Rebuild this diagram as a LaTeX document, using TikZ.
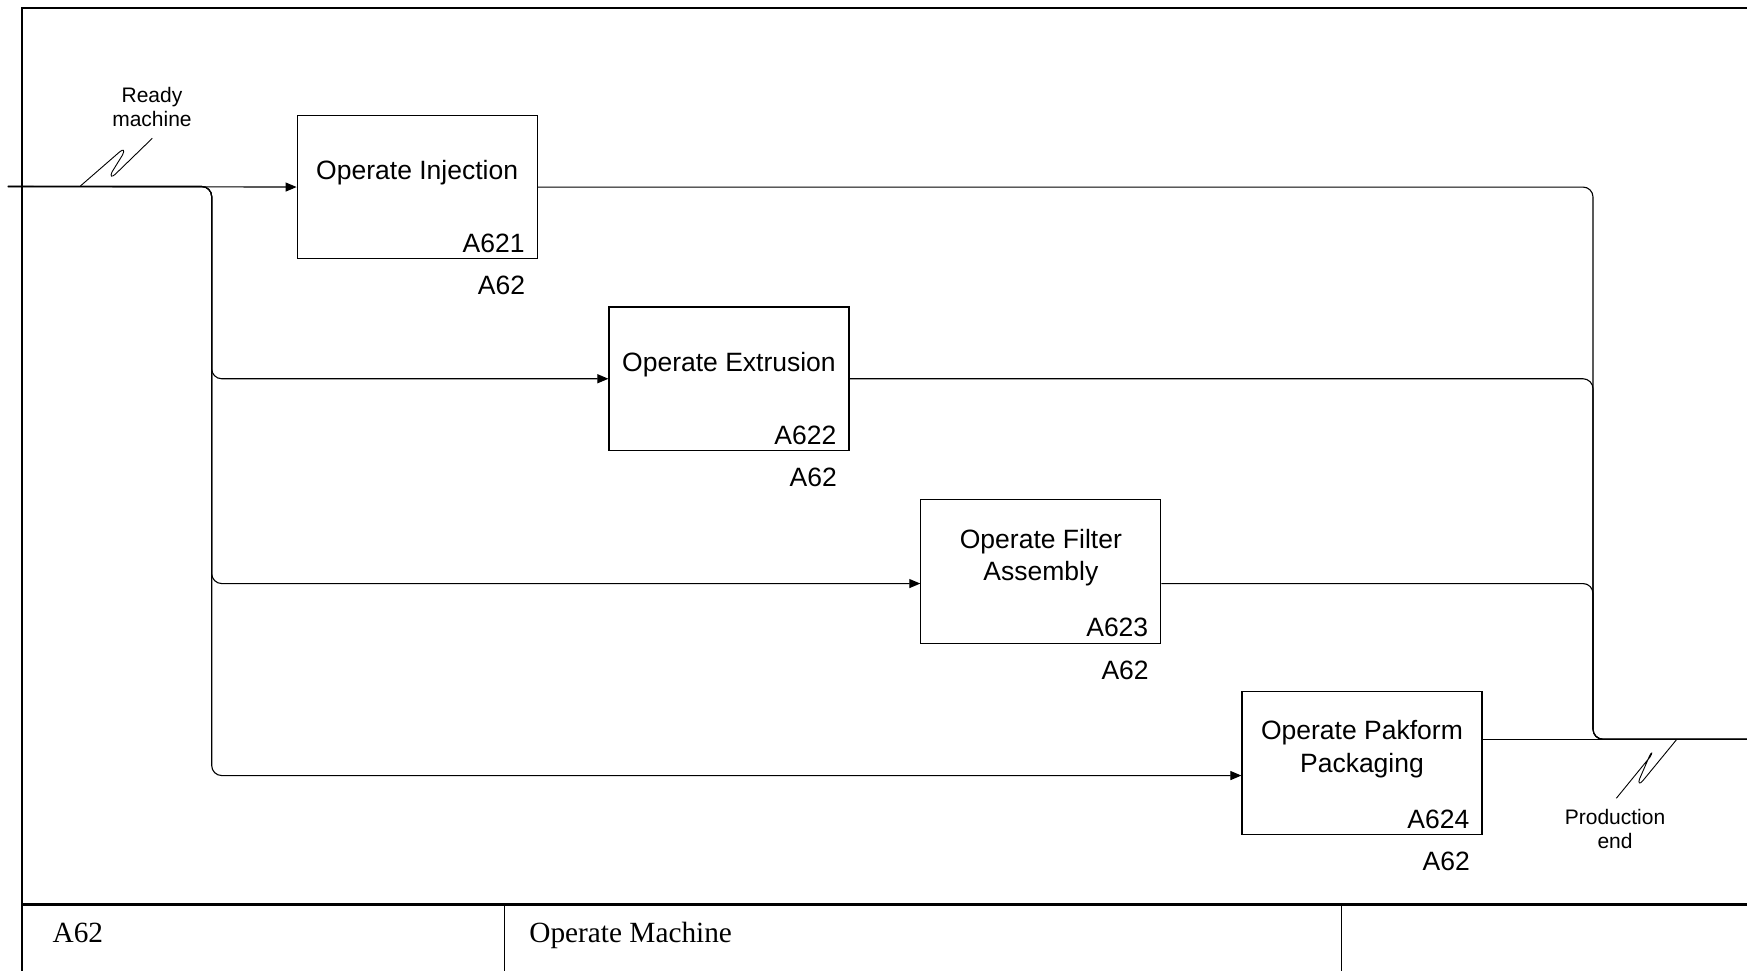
\documentclass[tikz,border=0pt]{standalone}
\usepackage{fontspec}
\setmainfont{Liberation Sans}
\newfontfamily\titlefont{Liberation Serif}
\usetikzlibrary{arrows.meta,calc}

\begin{document}
\begin{tikzpicture}[x=1pt,y=-1pt,
  actbox/.style={draw,line width=1.1pt,minimum width=240pt,minimum height=143.6pt,
                 inner sep=0pt,anchor=north west},
  boxtext/.style={font=\fontsize{26.5}{32.4}\selectfont,align=center,inner sep=0pt},
  boxnum/.style={font=\fontsize{26.5}{32.4}\selectfont,inner sep=0pt,anchor=base east},
  arclabel/.style={font=\fontsize{21}{24.7}\selectfont,align=center,inner sep=0pt},
  titletext/.style={font=\titlefont\fontsize{29.3}{33}\selectfont,inner sep=0pt,anchor=base west},
  flow/.style={line width=1.1pt,rounded corners=10pt},
  arr/.style={-{Triangle[length=11pt,width=9pt]}},
  squiggle/.style={line width=0.9pt},
  framestyle/.style={line width=2pt}]

\useasboundingbox (0,0) rectangle (1747,971);
\clip (0,0) rectangle (1747,971);

% diagram frame and title strip
\draw[framestyle] (21.8,7.7) rectangle (1770,1000);
\draw[line width=2.5pt] (21.8,904.7) -- (1770,904.7);
\draw[line width=1.4pt] (504.7,904.7) -- (504.7,1000);
\draw[line width=1.4pt] (1341.5,904.7) -- (1341.5,1000);
\node[titletext] (tnum) at (52.4,942) {A62};
\node[titletext] (tname) at (529.2,942) {Operate Machine};

% activity boxes
\node[actbox] (b1) at (296.6,114.7) {};
\node[actbox] (b2) at (608.4,306.4) {};
\node[actbox] (b3) at (920.3,499.2) {};
\node[actbox] (b4) at (1241.4,690.7) {};

\node[boxtext] (t1) at ($(b1.north)+(0,58.3)$) {Operate Injection};
\node[boxtext] (t2) at ($(b2.north)+(0,58.3)$) {Operate Extrusion};
\node[boxtext] (t3) at ($(b3.north)+(0,58.3)$) {Operate Filter\\Assembly};
\node[boxtext] (t4) at ($(b4.north)+(0,58.3)$) {Operate Pakform\\Packaging};

\foreach \b/\n in {b1/A621,b2/A622,b3/A623,b4/A624}{
  \node[boxnum] (\b num) at ($(\b.south east)+(-13,-7)$) {\n};
  \node[boxnum] (\b ref) at ($(\b.south east)+(-12.5,35.2)$) {A62};
}

% connector end points
\coordinate (in) at (7.8,186.5);
\coordinate (bx) at (211.7,186.5);
\coordinate (mx) at (1593,186.5);
\coordinate (b3in) at ([yshift=-12pt]b3.west);
\coordinate (b3out) at ([yshift=-12pt]b3.east);
\coordinate (b4in) at ([yshift=-12.5pt]b4.west);
\coordinate (b4out) at ([yshift=23.8pt]b4.east);
\coordinate (out) at (1770,0 |- b4out);

% input: Ready machine, fanned out to every activity
\draw[flow,arr] (in) -- (b1.west);
\draw[flow,arr] (in) -- (bx) -- (bx |- b2.west) -- (b2.west);
\draw[flow,arr] (in) -- (bx) -- (bx |- b3in) -- (b3in);
\draw[flow,arr] (in) -- (bx) -- (bx |- b4in) -- (b4in);

% outputs joined into Production end
\draw[flow] (b1.east) -- (mx |- b1.east) -- (mx |- b4out) -- (out);
\draw[flow] (b2.east) -- (mx |- b2.east) -- (mx |- b4out) -- (out);
\draw[flow] (b3out) -- (mx |- b3out) -- (mx |- b4out) -- (out);
\draw[flow] (b4out) -- (out);

% arrow labels with their squiggles
\node[arclabel] (lin) at (152,107) {Ready\\machine};
\draw[squiggle] (80.4,186) -- (119.5,152)
  .. controls (123.5,148.5) and (125,150) .. (122.5,155)
  -- (112,172) .. controls (110,176.5) and (111.5,177.5) .. (115,174.5)
  -- (152.3,138.3);

\node[arclabel] (lout) at (1615,829) {Production\\end};
\draw[squiggle] (1676.8,739.3) -- (1643,780.5)
  .. controls (1639.5,785) and (1638,783) .. (1639.5,779)
  -- (1649.5,756) .. controls (1651.5,751.5) and (1653,752.5) .. (1650,757)
  -- (1616.3,798.3);

\end{tikzpicture}
\end{document}
